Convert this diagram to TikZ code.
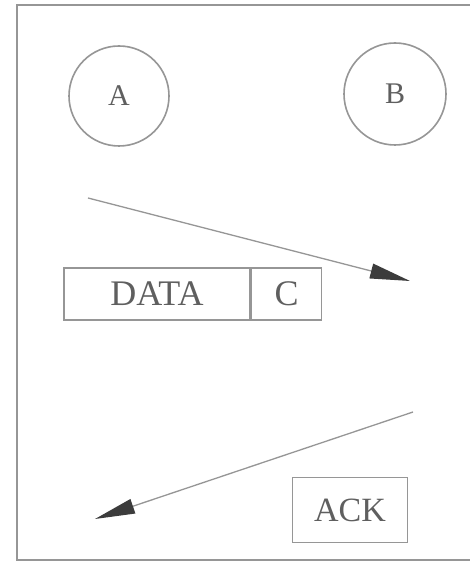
\documentclass[tikz,border=0pt]{standalone}
\usepackage{fontspec}
\setmainfont{Liberation Serif}
\usetikzlibrary{arrows.meta}
\definecolor{ln}{RGB}{150,150,150}
\definecolor{tx}{RGB}{95,95,95}
\definecolor{hd}{RGB}{60,60,60}
\begin{document}
\begin{tikzpicture}[x=1pt,y=1pt,
  station/.style={circle,draw=ln,line width=1.6pt,minimum size=100pt,inner sep=0pt,text=tx,font=\fontsize{30}{30}\selectfont},
  field/.style={rectangle,draw=ln,line width=1.6pt,inner sep=0pt,text=tx,font=\fontsize{36}{36}\selectfont},
  msg/.style={draw=ln,line width=1.3pt,-{Triangle[length=40pt,width=15pt,color=hd]}}]
\useasboundingbox (0,0) rectangle (469,569);
\fill[white] (0,0) rectangle (469,569);
% frame
\draw[ln,line width=2.6pt] (480,564) -- (17,564) -- (17,9) -- (480,9);
% stations
\node[station] (A) at (119,473) {A};
\node[station,minimum size=102pt] (B) at (395,475) {B};
% data frame
\node[field,minimum width=186pt,minimum height=52pt] (data) at (157,275) {DATA};
\node[field,minimum width=70pt,minimum height=52pt,anchor=west] (c) at (data.east) {C};
% ack
\node[field,minimum width=115pt,minimum height=65pt,font=\fontsize{34}{34}\selectfont] (ack) at (350,59) {ACK};
% messages
\coordinate (s1) at (88,371);
\coordinate (e1) at (410,288);
\coordinate (s2) at (413,157);
\coordinate (e2) at (95,50);
\draw[msg] (s1) -- (e1);
\draw[msg] (s2) -- (e2);
\end{tikzpicture}
\end{document}
